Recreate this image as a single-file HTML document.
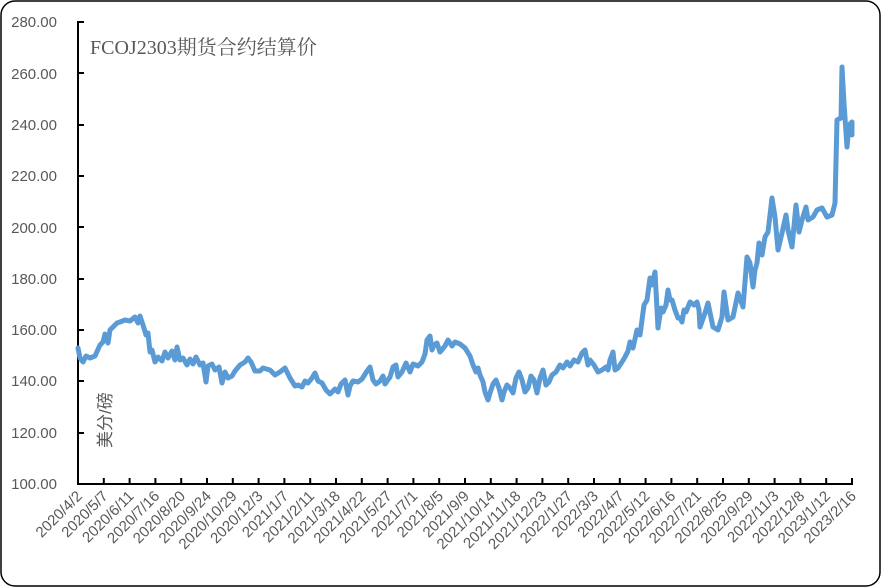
<!DOCTYPE html>
<html><head><meta charset="utf-8"><style>
html,body{margin:0;padding:0;background:#fff}
svg{display:block}
text{font-family:"Liberation Sans","Noto Sans CJK SC",sans-serif;fill:#595959}
</style></head><body>
<svg width="881" height="587" viewBox="0 0 881 587" xmlns="http://www.w3.org/2000/svg">
<rect x="1" y="1" width="879" height="585" rx="14" ry="14" fill="#fff" stroke="#000" stroke-width="1.5"/>
<g font-size="15" text-anchor="end">
<text x="57" y="489">100.00</text>
<text x="57" y="438">120.00</text>
<text x="57" y="386">140.00</text>
<text x="57" y="335">160.00</text>
<text x="57" y="284">180.00</text>
<text x="57" y="233">200.00</text>
<text x="57" y="181">220.00</text>
<text x="57" y="130">240.00</text>
<text x="57" y="79">260.00</text>
<text x="57" y="27">280.00</text>
</g>
<g stroke="#000" stroke-width="2" fill="none">
<line x1="78" y1="21" x2="78" y2="485"/>
<line x1="77" y1="484" x2="853" y2="484"/>
<path d="M78 22h6M78 73h6M78 125h6M78 176h6M78 227h6M78 279h6M78 330h6M78 381h6M78 433h6"/>
</g>
<g stroke="#000" stroke-width="2" id="ticks"></g>
<text x="90" y="54" font-size="20" style="font-family:'Liberation Serif','Noto Serif CJK SC',serif">FCOJ2303期货合约结算价</text>
<text transform="translate(111,448) rotate(-90)" font-size="17">美分/磅</text>
<polyline fill="none" stroke="#5b9bd5" stroke-width="5" stroke-linejoin="round" stroke-linecap="round" points="
78,348 80,358 83,362 86,356 90,358 95,356 100,345 103,342 105,334 108,343 110,330 113,327 117,323 120,322 125,320 130,321 135,317 138,323 140,316 143,325 146,335 148,333 150,352 152,350 155,362 158,357 162,361 165,352 168,358 172,351 175,360 177,347 180,360 183,358 187,365 190,359 193,364 196,357 200,365 203,363 206,382 208,366 212,364 215,370 219,367 222,383 225,372 228,378 232,376 235,371 240,365 245,362 248,358 251,362 255,371 260,371 263,368 270,370 275,375 280,372 285,368 290,378 295,386 298,385 302,387 305,381 308,383 312,378 315,373 318,381 322,383 326,390 330,394 335,389 338,392 341,384 345,380 348,395 350,386 353,381 358,382 362,379 367,371 370,367 373,380 376,384 380,381 383,376 385,384 390,377 393,367 396,365 398,377 402,372 406,363 410,372 413,364 418,366 422,362 425,354 427,340 430,336 432,350 434,345 437,343 440,352 445,346 448,340 452,346 455,342 460,344 465,348 470,356 473,365 476,372 478,368 480,375 483,382 485,392 488,400 490,393 493,384 496,380 499,388 502,400 504,392 507,385 510,388 513,393 516,378 519,372 522,380 525,392 528,388 531,376 534,380 537,393 540,378 543,370 546,385 549,382 552,375 556,372 560,365 563,368 567,362 570,366 574,360 578,362 582,353 585,350 588,365 590,360 594,365 598,372 602,370 606,367 608,370 610,360 613,352 615,370 618,368 622,362 625,357 628,351 630,342 633,348 637,330 640,335 644,305 647,300 650,278 652,285 655,272 658,328 661,308 663,312 666,305 668,290 670,300 672,300 675,310 678,318 680,318 682,322 684,310 686,312 690,302 694,305 697,302 699,310 700,327 705,313 708,303 713,327 718,330 722,317 724,292 728,320 733,317 738,293 743,307 747,257 750,263 753,287 755,270 757,263 759,243 762,255 765,237 768,232 772,198 775,217 778,250 782,233 786,215 788,230 792,247 796,205 799,232 802,220 806,207 808,220 813,217 817,210 822,208 827,217 832,215 835,203 837,120 841,118 842,67 844,103 847,147 849,125 852,122 852,135"/>
<g id="xl" font-size="15" text-anchor="end"></g>
<script>
var labels=["2020/4/2","2020/5/7","2020/6/11","2020/7/16","2020/8/20","2020/9/24","2020/10/29","2020/12/3","2021/1/7","2021/2/11","2021/3/18","2021/4/22","2021/5/27","2021/7/1","2021/8/5","2021/9/9","2021/10/14","2021/11/18","2021/12/23","2022/1/27","2022/3/3","2022/4/7","2022/5/12","2022/6/16","2022/7/21","2022/8/25","2022/9/29","2022/11/3","2022/12/8","2023/1/12","2023/2/16"];
var ns="http://www.w3.org/2000/svg",g=document.getElementById("xl"),t=document.getElementById("ticks");
for(var i=0;i<31;i++){var x=78+i*(774/30);
var l=document.createElementNS(ns,"line");l.setAttribute("x1",x);l.setAttribute("x2",x);l.setAttribute("y1",478);l.setAttribute("y2",484);t.appendChild(l);
var e=document.createElementNS(ns,"text");e.setAttribute("transform","translate("+(x+5)+",497) rotate(-45)");e.textContent=labels[i];g.appendChild(e);}
</script>
</svg>
</body></html>
